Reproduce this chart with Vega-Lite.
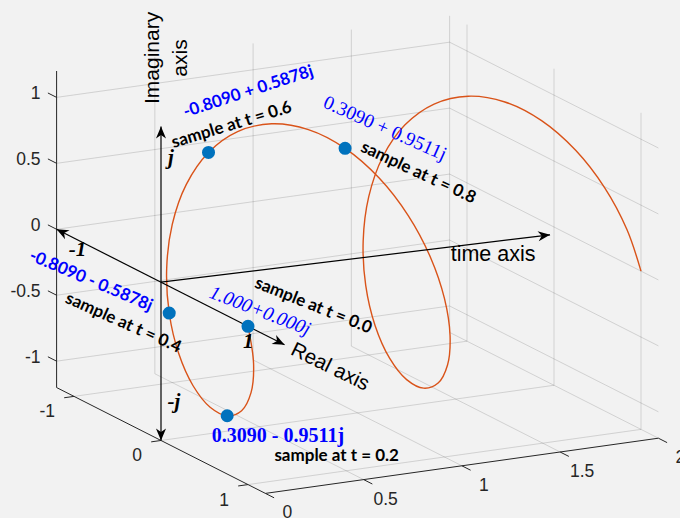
{
  "$schema": "https://vega.github.io/schema/vega-lite/v6.json",
  "width": 680,
  "height": 518,
  "autosize": {"type": "none"},
  "padding": 0,
  "background": "#F2F2F2",
  "config": {"view": {"stroke": null}},
  "data": {"values": [
    {"k":"helix","t":0,"re":1,"im":0},
    {"k":"helix","t":0.05,"re":0.9511,"im":-0.309},
    {"k":"helix","t":0.1,"re":0.809,"im":-0.5878},
    {"k":"helix","t":0.15,"re":0.5878,"im":-0.809},
    {"k":"helix","t":0.2,"re":0.309,"im":-0.9511},
    {"k":"helix","t":0.25,"re":0,"im":-1},
    {"k":"helix","t":0.3,"re":-0.309,"im":-0.9511},
    {"k":"helix","t":0.35,"re":-0.5878,"im":-0.809},
    {"k":"helix","t":0.4,"re":-0.809,"im":-0.5878},
    {"k":"helix","t":0.45,"re":-0.9511,"im":-0.309},
    {"k":"helix","t":0.5,"re":-1,"im":0},
    {"k":"helix","t":0.55,"re":-0.9511,"im":0.309},
    {"k":"helix","t":0.6,"re":-0.809,"im":0.5878},
    {"k":"helix","t":0.65,"re":-0.5878,"im":0.809},
    {"k":"helix","t":0.7,"re":-0.309,"im":0.9511},
    {"k":"helix","t":0.75,"re":0,"im":1},
    {"k":"helix","t":0.8,"re":0.309,"im":0.9511},
    {"k":"helix","t":0.85,"re":0.5878,"im":0.809},
    {"k":"helix","t":0.9,"re":0.809,"im":0.5878},
    {"k":"helix","t":0.95,"re":0.9511,"im":0.309},
    {"k":"helix","t":1,"re":1,"im":0},
    {"k":"helix","t":1.05,"re":0.9511,"im":-0.309},
    {"k":"helix","t":1.1,"re":0.809,"im":-0.5878},
    {"k":"helix","t":1.15,"re":0.5878,"im":-0.809},
    {"k":"helix","t":1.2,"re":0.309,"im":-0.9511},
    {"k":"helix","t":1.25,"re":0,"im":-1},
    {"k":"helix","t":1.3,"re":-0.309,"im":-0.9511},
    {"k":"helix","t":1.35,"re":-0.5878,"im":-0.809},
    {"k":"helix","t":1.4,"re":-0.809,"im":-0.5878},
    {"k":"helix","t":1.45,"re":-0.9511,"im":-0.309},
    {"k":"helix","t":1.5,"re":-1,"im":0},
    {"k":"helix","t":1.55,"re":-0.9511,"im":0.309},
    {"k":"helix","t":1.6,"re":-0.809,"im":0.5878},
    {"k":"helix","t":1.65,"re":-0.5878,"im":0.809},
    {"k":"helix","t":1.7,"re":-0.309,"im":0.9511},
    {"k":"helix","t":1.75,"re":0,"im":1},
    {"k":"helix","t":1.8,"re":0.309,"im":0.9511},
    {"k":"helix","t":1.85,"re":0.5878,"im":0.809},
    {"k":"helix","t":1.9,"re":0.809,"im":0.5878},
    {"k":"helix","t":1.95,"re":0.9511,"im":0.309},
    {"k":"helix","t":2,"re":1,"im":0},

    {"k":"sample","t":0,"re":1,"im":0},
    {"k":"sample","t":0.2,"re":0.309,"im":-0.9511},
    {"k":"sample","t":0.4,"re":-0.809,"im":-0.5878},
    {"k":"sample","t":0.6,"re":-0.809,"im":0.5878},
    {"k":"sample","t":0.8,"re":0.309,"im":0.9511},

    {"k":"g","t":0,"re":-1.2,"im":-1,"t2":2,"re2":-1.2,"im2":-1},
    {"k":"g","t":0,"re":-1.2,"im":-0.5,"t2":2,"re2":-1.2,"im2":-0.5},
    {"k":"g","t":0,"re":-1.2,"im":0,"t2":2,"re2":-1.2,"im2":0},
    {"k":"g","t":0,"re":-1.2,"im":0.5,"t2":2,"re2":-1.2,"im2":0.5},
    {"k":"g","t":0,"re":-1.2,"im":1,"t2":2,"re2":-1.2,"im2":1},
    {"k":"g","t":0.5,"re":-1.2,"im":-1.2,"t2":0.5,"re2":-1.2,"im2":1.2},
    {"k":"g","t":1,"re":-1.2,"im":-1.2,"t2":1,"re2":-1.2,"im2":1.2},
    {"k":"g","t":1.5,"re":-1.2,"im":-1.2,"t2":1.5,"re2":-1.2,"im2":1.2},
    {"k":"g","t":2,"re":-1.2,"im":-1.2,"t2":2,"re2":-1.2,"im2":1.2},
    {"k":"g","t":2,"re":-1.2,"im":-1,"t2":2,"re2":1.2,"im2":-1},
    {"k":"g","t":2,"re":-1.2,"im":-0.5,"t2":2,"re2":1.2,"im2":-0.5},
    {"k":"g","t":2,"re":-1.2,"im":0,"t2":2,"re2":1.2,"im2":0},
    {"k":"g","t":2,"re":-1.2,"im":0.5,"t2":2,"re2":1.2,"im2":0.5},
    {"k":"g","t":2,"re":-1.2,"im":1,"t2":2,"re2":1.2,"im2":1},
    {"k":"g","t":2,"re":-1,"im":-1.2,"t2":2,"re2":-1,"im2":1.2},
    {"k":"g","t":2,"re":0,"im":-1.2,"t2":2,"re2":0,"im2":1.2},
    {"k":"g","t":2,"re":1,"im":-1.2,"t2":2,"re2":1,"im2":1.2},
    {"k":"g","t":0.5,"re":-1.2,"im":-1.2,"t2":0.5,"re2":1.2,"im2":-1.2},
    {"k":"g","t":1,"re":-1.2,"im":-1.2,"t2":1,"re2":1.2,"im2":-1.2},
    {"k":"g","t":1.5,"re":-1.2,"im":-1.2,"t2":1.5,"re2":1.2,"im2":-1.2},
    {"k":"g","t":2,"re":-1.2,"im":-1.2,"t2":2,"re2":1.2,"im2":-1.2},
    {"k":"g","t":0,"re":-1,"im":-1.2,"t2":2,"re2":-1,"im2":-1.2},
    {"k":"g","t":0,"re":0,"im":-1.2,"t2":2,"re2":0,"im2":-1.2},
    {"k":"g","t":0,"re":1,"im":-1.2,"t2":2,"re2":1,"im2":-1.2},

    {"k":"ax","t":0,"re":-1.2,"im":-1.2,"t2":0,"re2":-1.2,"im2":1.2},
    {"k":"ax","t":0,"re":-1.2,"im":-1.2,"t2":0,"re2":1.2,"im2":-1.2},
    {"k":"ax","t":0,"re":1.2,"im":-1.2,"t2":2,"re2":1.2,"im2":-1.2},
    {"k":"ax","t":0,"re":-1.2,"im":-1,"t2":0,"re2":-1.3,"im2":-1},
    {"k":"ax","t":0,"re":-1.2,"im":-0.5,"t2":0,"re2":-1.3,"im2":-0.5},
    {"k":"ax","t":0,"re":-1.2,"im":0,"t2":0,"re2":-1.3,"im2":0},
    {"k":"ax","t":0,"re":-1.2,"im":0.5,"t2":0,"re2":-1.3,"im2":0.5},
    {"k":"ax","t":0,"re":-1.2,"im":1,"t2":0,"re2":-1.3,"im2":1},
    {"k":"ax","t":0,"re":-1,"im":-1.2,"t2":-0.05,"re2":-1,"im2":-1.2},
    {"k":"ax","t":0,"re":0,"im":-1.2,"t2":-0.05,"re2":0,"im2":-1.2},
    {"k":"ax","t":0,"re":1,"im":-1.2,"t2":-0.05,"re2":1,"im2":-1.2},
    {"k":"ax","t":0,"re":1.2,"im":-1.2,"t2":0,"re2":1.3,"im2":-1.2},
    {"k":"ax","t":0.5,"re":1.2,"im":-1.2,"t2":0.5,"re2":1.3,"im2":-1.2},
    {"k":"ax","t":1,"re":1.2,"im":-1.2,"t2":1,"re2":1.3,"im2":-1.2},
    {"k":"ax","t":1.5,"re":1.2,"im":-1.2,"t2":1.5,"re2":1.3,"im2":-1.2},
    {"k":"ax","t":2,"re":1.2,"im":-1.2,"t2":2,"re2":1.3,"im2":-1.2},

    {"k":"lz","t":0,"re":-1.2,"im":-1,"label":"-1"},
    {"k":"lz","t":0,"re":-1.2,"im":-0.5,"label":"-0.5"},
    {"k":"lz","t":0,"re":-1.2,"im":0,"label":"0"},
    {"k":"lz","t":0,"re":-1.2,"im":0.5,"label":"0.5"},
    {"k":"lz","t":0,"re":-1.2,"im":1,"label":"1"},
    {"k":"lr","t":0,"re":-1,"im":-1.2,"label":"-1"},
    {"k":"lr","t":0,"re":0,"im":-1.2,"label":"0"},
    {"k":"lr","t":0,"re":1,"im":-1.2,"label":"1"},
    {"k":"lt","t":0,"re":1.2,"im":-1.2,"label":"0"},
    {"k":"lt","t":0.5,"re":1.2,"im":-1.2,"label":"0.5"},
    {"k":"lt","t":1,"re":1.2,"im":-1.2,"label":"1"},
    {"k":"lt","t":1.5,"re":1.2,"im":-1.2,"label":"1.5"},
    {"k":"lt","t":2,"re":1.2,"im":-1.2,"label":"2"},

    {"k":"arrow","t":0,"re":0,"im":-1.2,"t2":0,"re2":0,"im2":1.18,"both":true},
    {"k":"arrow","t":0,"re":-1.2,"im":0,"t2":0,"re2":1.42,"im2":0,"both":true},
    {"k":"arrow","t":0,"re":0,"im":0,"t2":1.98,"re2":0,"im2":-0.055,"both":false},

    {"k":"note","id":"imag","t":0,"re":0,"im":1.18,"label":"Imaginary\naxis"},
    {"k":"note","id":"jtop","t":0,"re":0,"im":1.18,"label":"j"},
    {"k":"note","id":"jbot","t":0,"re":0,"im":-1.2,"label":"-j"},
    {"k":"note","id":"m1","t":0,"re":-1.2,"im":0,"label":"-1"},
    {"k":"note","id":"p1","t":0,"re":1,"im":0,"label":"1"},
    {"k":"note","id":"real","t":0,"re":1.42,"im":0,"label":"Real axis"},
    {"k":"note","id":"time","t":1.98,"re":0,"im":-0.055,"label":"time axis"},
    {"k":"note","id":"v0","t":0,"re":1,"im":0,"label":"1.000+0.000j"},
    {"k":"note","id":"s0","t":0,"re":1,"im":0,"label":"sample at t = 0.0"},
    {"k":"note","id":"v2","t":0.2,"re":0.309,"im":-0.9511,"label":"0.3090 - 0.9511j"},
    {"k":"note","id":"s2","t":0.2,"re":0.309,"im":-0.9511,"label":"sample at t = 0.2"},
    {"k":"note","id":"v4","t":0.4,"re":-0.809,"im":-0.5878,"label":"-0.8090 - 0.5878j"},
    {"k":"note","id":"s4","t":0.4,"re":-0.809,"im":-0.5878,"label":"sample at t = 0.4"},
    {"k":"note","id":"v6","t":0.6,"re":-0.809,"im":0.5878,"label":"-0.8090 + 0.5878j"},
    {"k":"note","id":"s6","t":0.6,"re":-0.809,"im":0.5878,"label":"sample at t = 0.6"},
    {"k":"note","id":"v8","t":0.8,"re":0.309,"im":0.9511,"label":"0.3090 + 0.9511j"},
    {"k":"note","id":"s8","t":0.8,"re":0.309,"im":0.9511,"label":"sample at t = 0.8"}
  ]},
  "transform": [
    {"calculate": "161 + 196.5*datum.t + 87*datum.re", "as": "px"},
    {"calculate": "282.2 - 27.6*datum.t + 44.1*datum.re - 131.9*datum.im", "as": "py"},
    {"calculate": "161 + 196.5*datum.t2 + 87*datum.re2", "as": "px2"},
    {"calculate": "282.2 - 27.6*datum.t2 + 44.1*datum.re2 - 131.9*datum.im2", "as": "py2"},
    {"calculate": "atan2(datum.px2 - datum.px, datum.py - datum.py2) * 180 / PI", "as": "ang"}
  ],
  "encoding": {
    "x": {"field": "px", "type": "quantitative", "scale": {"domain": [0, 680], "nice": false, "zero": false}, "axis": null},
    "y": {"field": "py", "type": "quantitative", "scale": {"domain": [0, 518], "nice": false, "zero": false, "reverse": true}, "axis": null}
  },
  "layer": [
    {"transform": [{"filter": "datum.k === 'g'"}],
     "mark": {"type": "rule", "color": "#262626", "opacity": 0.16, "strokeWidth": 1},
     "encoding": {"x2": {"field": "px2"}, "y2": {"field": "py2"}}},
    {"transform": [{"filter": "datum.k === 'ax'"}],
     "mark": {"type": "rule", "color": "#262626", "strokeWidth": 1},
     "encoding": {"x2": {"field": "px2"}, "y2": {"field": "py2"}}},
    {"transform": [{"filter": "datum.k === 'lz'"}],
     "mark": {"type": "text", "font": "Liberation Sans", "fontSize": 17.5, "color": "#262626", "align": "right", "baseline": "middle", "dx": -16, "dy": -3},
     "encoding": {"text": {"field": "label", "type": "nominal"}}},
    {"transform": [{"filter": "datum.k === 'lr'"}],
     "mark": {"type": "text", "font": "Liberation Sans", "fontSize": 17.5, "color": "#262626", "align": "right", "baseline": "middle", "dx": -19, "dy": 16},
     "encoding": {"text": {"field": "label", "type": "nominal"}}},
    {"transform": [{"filter": "datum.k === 'lt'"}],
     "mark": {"type": "text", "font": "Liberation Sans", "fontSize": 17.5, "color": "#262626", "align": "center", "baseline": "middle", "dx": 22, "dy": 20},
     "encoding": {"text": {"field": "label", "type": "nominal"}}},
    {"transform": [{"filter": "datum.k === 'helix'"}],
     "mark": {"type": "line", "color": "#D95319", "strokeWidth": 1.4, "interpolate": "catmull-rom"},
     "encoding": {"order": {"field": "t", "type": "quantitative"}}},
    {"transform": [{"filter": "datum.k === 'arrow'"}],
     "mark": {"type": "rule", "color": "#000000", "strokeWidth": 1.2},
     "encoding": {"x2": {"field": "px2"}, "y2": {"field": "py2"}}},
    {"transform": [{"filter": "datum.k === 'arrow'"}],
     "mark": {"type": "point", "shape": "M0,0L0.42,1L0,0.7L-0.42,1Z", "filled": true, "color": "#000000", "size": 576, "opacity": 1},
     "encoding": {
       "x": {"field": "px2", "type": "quantitative", "scale": {"domain": [0, 680], "nice": false, "zero": false}, "axis": null},
       "y": {"field": "py2", "type": "quantitative", "scale": {"domain": [0, 518], "nice": false, "zero": false, "reverse": true}, "axis": null},
       "angle": {"field": "ang", "type": "quantitative", "scale": null}}},
    {"transform": [{"filter": "datum.k === 'arrow' && datum.both"}, {"calculate": "datum.ang + 180", "as": "ang2"}],
     "mark": {"type": "point", "shape": "M0,0L0.42,1L0,0.7L-0.42,1Z", "filled": true, "color": "#000000", "size": 576, "opacity": 1},
     "encoding": {"angle": {"field": "ang2", "type": "quantitative", "scale": null}}},
    {"transform": [{"filter": "datum.k === 'sample'"}],
     "mark": {"type": "point", "filled": true, "color": "#0072BD", "size": 170, "opacity": 1}},

    {"transform": [{"filter": "datum.id === 'imag'"}],
     "mark": {"type": "text", "font": "Liberation Sans", "fontSize": 21, "color": "#000000", "angle": 270, "dx": 68.6, "dy": -8, "lineBreak": "\n", "lineHeight": 28, "align": "center", "baseline": "middle"},
     "encoding": {"text": {"field": "label", "type": "nominal"}}},
    {"transform": [{"filter": "datum.id === 'jtop'"}],
     "mark": {"type": "text", "font": "Liberation Serif", "fontWeight": "bold", "fontStyle": "italic", "fontSize": 21, "color": "#000000", "dx": 10, "dy": 31.4, "align": "center", "baseline": "middle"},
     "encoding": {"text": {"field": "label", "type": "nominal"}}},
    {"transform": [{"filter": "datum.id === 'jbot'"}],
     "mark": {"type": "text", "font": "Liberation Serif", "fontWeight": "bold", "fontStyle": "italic", "fontSize": 21, "color": "#000000", "dx": 13, "dy": -38.5, "align": "center", "baseline": "middle"},
     "encoding": {"text": {"field": "label", "type": "nominal"}}},
    {"transform": [{"filter": "datum.id === 'm1'"}],
     "mark": {"type": "text", "font": "Liberation Serif", "fontWeight": "bold", "fontStyle": "italic", "fontSize": 21, "color": "#000000", "dx": 20.9, "dy": 20.7, "align": "center", "baseline": "middle"},
     "encoding": {"text": {"field": "label", "type": "nominal"}}},
    {"transform": [{"filter": "datum.id === 'p1'"}],
     "mark": {"type": "text", "font": "Liberation Serif", "fontWeight": "bold", "fontStyle": "italic", "fontSize": 21, "color": "#000000", "dx": 0.3, "dy": 15.4, "align": "center", "baseline": "middle"},
     "encoding": {"text": {"field": "label", "type": "nominal"}}},
    {"transform": [{"filter": "datum.id === 'real'"}],
     "mark": {"type": "text", "font": "Liberation Sans", "fontSize": 20.5, "color": "#000000", "angle": 26, "dx": 50.6, "dy": 0, "align": "center", "baseline": "middle"},
     "encoding": {"text": {"field": "label", "type": "nominal"}}},
    {"transform": [{"filter": "datum.id === 'time'"}],
     "mark": {"type": "text", "font": "Liberation Sans", "fontSize": 21.5, "color": "#000000", "dx": -57, "dy": 20, "align": "center", "baseline": "middle"},
     "encoding": {"text": {"field": "label", "type": "nominal"}}},
    {"transform": [{"filter": "datum.id === 'v0'"}],
     "mark": {"type": "text", "font": "Liberation Serif", "fontStyle": "italic", "fontSize": 19.5, "color": "#0000FF", "angle": 21, "dx": 5.6, "dy": -18.8, "align": "center", "baseline": "middle"},
     "encoding": {"text": {"field": "label", "type": "nominal"}}},
    {"transform": [{"filter": "datum.id === 's0'"}],
     "mark": {"type": "text", "font": "Lato", "fontWeight": "bold", "fontSize": 17, "color": "#000000", "angle": 22, "dx": 52.9, "dy": -43.5, "align": "center", "baseline": "middle"},
     "encoding": {"text": {"field": "label", "type": "nominal"}}},
    {"transform": [{"filter": "datum.id === 'v2'"}],
     "mark": {"type": "text", "font": "Liberation Serif", "fontWeight": "bold", "fontSize": 20, "color": "#0000FF", "dx": 50.8, "dy": 20.2, "align": "center", "baseline": "middle"},
     "encoding": {"text": {"field": "label", "type": "nominal"}}},
    {"transform": [{"filter": "datum.id === 's2'"}],
     "mark": {"type": "text", "font": "Lato", "fontWeight": "bold", "fontSize": 17, "color": "#000000", "dx": 109.5, "dy": 40.2, "align": "center", "baseline": "middle"},
     "encoding": {"text": {"field": "label", "type": "nominal"}}},
    {"transform": [{"filter": "datum.id === 'v4'"}],
     "mark": {"type": "text", "font": "Lato", "fontWeight": "bold", "fontSize": 17, "color": "#0000FF", "angle": 23, "dx": -84.7, "dy": 1.0, "align": "center", "baseline": "middle"},
     "encoding": {"text": {"field": "label", "type": "nominal"}}},
    {"transform": [{"filter": "datum.id === 's4'"}],
     "mark": {"type": "text", "font": "Lato", "fontWeight": "bold", "fontSize": 17, "color": "#000000", "angle": 24, "dx": -37.9, "dy": 27.8, "align": "center", "baseline": "middle"},
     "encoding": {"text": {"field": "label", "type": "nominal"}}},
    {"transform": [{"filter": "datum.id === 'v6'"}],
     "mark": {"type": "text", "font": "Lato", "fontWeight": "bold", "fontSize": 17, "color": "#0000FF", "angle": -18, "dx": 56.6, "dy": -45.4, "align": "center", "baseline": "middle"},
     "encoding": {"text": {"field": "label", "type": "nominal"}}},
    {"transform": [{"filter": "datum.id === 's6'"}],
     "mark": {"type": "text", "font": "Lato", "fontWeight": "bold", "fontSize": 17, "color": "#000000", "angle": -17, "dx": 30.2, "dy": -19.4, "align": "center", "baseline": "middle"},
     "encoding": {"text": {"field": "label", "type": "nominal"}}},
    {"transform": [{"filter": "datum.id === 'v8'"}],
     "mark": {"type": "text", "font": "Liberation Serif", "fontSize": 19.5, "color": "#0000FF", "angle": 24, "dx": 28.3, "dy": -34.5, "align": "center", "baseline": "middle"},
     "encoding": {"text": {"field": "label", "type": "nominal"}}},
    {"transform": [{"filter": "datum.id === 's8'"}],
     "mark": {"type": "text", "font": "Lato", "fontWeight": "bold", "fontSize": 17, "color": "#000000", "angle": 25, "dx": 76.7, "dy": -8.8, "align": "center", "baseline": "middle"},
     "encoding": {"text": {"field": "label", "type": "nominal"}}}
  ]
}
